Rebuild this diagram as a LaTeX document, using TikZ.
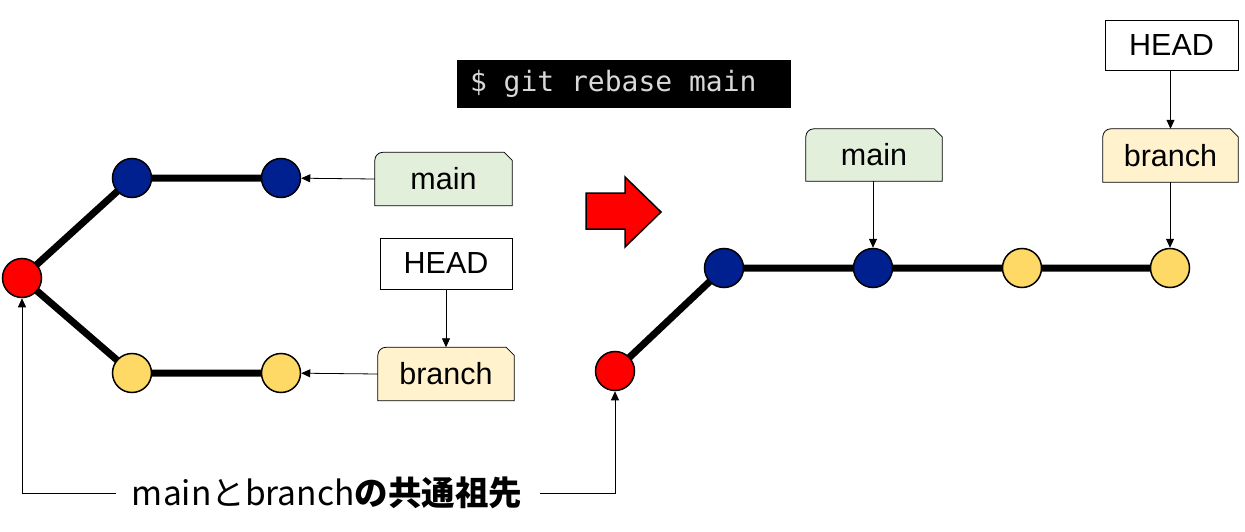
\documentclass[tikz,border=0pt]{standalone}
\usepackage{fontspec}
\setmainfont{Liberation Sans}
\newfontfamily\cjk{Noto Sans CJK JP}
\newfontfamily\cmdfont{DejaVu Sans Mono}
\usetikzlibrary{arrows.meta,backgrounds}
\definecolor{cred}{HTML}{FF0000}
\definecolor{cblue}{HTML}{002090}
\definecolor{cyellow}{HTML}{FFD966}
\definecolor{tgreen}{HTML}{E2EFDA}
\definecolor{tyellow}{HTML}{FFF2CC}
\definecolor{cmdgray}{HTML}{D8D8D8}
\newcommand\tagoutline[2]{%
  \draw[line width=0.8pt,fill=#2] (#1.south west) -- ([yshift=-8pt]#1.north west)
    arc[start angle=180,end angle=90,radius=8pt] -- ([xshift=-8pt]#1.north east)
    -- ([yshift=-8pt]#1.north east) -- (#1.south east) -- cycle;}
\begin{document}
\begin{tikzpicture}[x=1pt,y=-1pt,
  commit/.style={circle,draw=black,line width=1.5pt,minimum size=39pt,inner sep=0pt},
  redc/.style={commit,fill=cred},
  bluec/.style={commit,fill=cblue},
  yelc/.style={commit,fill=cyellow},
  edge/.style={line width=7pt},
  label/.style={font=\fontsize{30.5}{33}\selectfont,inner sep=0pt},
  tagbox/.style={label,minimum height=53pt},
  headbox/.style={label,draw=black,line width=0.8pt,minimum width=132pt,minimum height=51pt},
  ptr/.style={line width=0.8pt,-{Triangle[length=9pt,width=8pt]}}
]
\useasboundingbox (0,0) rectangle (1245,532);
% left graph
\draw[edge] (22,278) -- (132,178) -- (281,178);
\draw[edge] (22,278) -- (132,373) -- (281,373);
\node[redc] (r1) at (22,278) {};
\node[bluec] (b1) at (132,178) {};
\node[bluec] (b2) at (281,178) {};
\node[yelc] (y1) at (132,373) {};
\node[yelc] (y2) at (281,373) {};
\node[tagbox,minimum width=137pt] (lmain) at (443.5,179) {main};
\node[headbox] (lhead) at (446,263.5) {HEAD};
\node[tagbox,minimum width=136pt] (lbranch) at (446,374) {branch};
\begin{scope}[on background layer]
\tagoutline{lmain}{tgreen}
\tagoutline{lbranch}{tyellow}
\end{scope}
\draw[ptr] (lmain.west) -- (b2);
\draw[ptr] (lbranch.west) -- (y2);
\draw[ptr] (lhead.south) -- (lbranch.north);
% command
\node[fill=black,minimum width=334pt,minimum height=48pt,inner sep=0pt,
  font=\cmdfont\fontsize{28}{30}\selectfont,text=cmdgray] (cmd) at (624,84) {\makebox[308pt][l]{\$ git rebase main}};
% red arrow
\draw[fill=cred,line width=1.5pt] (586,193) -- (625,193) -- (625,177) -- (661,212)
  -- (625,247) -- (625,229) -- (586,229) -- cycle;
% right graph
\draw[edge] (615,371) -- (724,268) -- (1170,268);
\node[redc] (r2) at (615,371) {};
\node[bluec] (b3) at (724,268) {};
\node[bluec] (b4) at (873,268) {};
\node[yelc] (y3) at (1022,268) {};
\node[yelc] (y4) at (1170,268) {};
\node[tagbox,minimum width=136pt,minimum height=52pt] (rmain) at (874,155) {main};
\node[headbox,minimum height=50pt,minimum width=133pt] (rhead) at (1171.5,45) {HEAD};
\node[tagbox,minimum width=135pt] (rbranch) at (1170.5,155.5) {branch};
\begin{scope}[on background layer]
\tagoutline{rmain}{tgreen}
\tagoutline{rbranch}{tyellow}
\end{scope}
\draw[ptr] (rmain.south -| b4) -- (b4);
\draw[ptr] (rhead.south -| rbranch) -- (rbranch.north);
\draw[ptr] (rbranch.south -| y4) -- (y4);
% common ancestor
\node[font=\cjk\fontsize{33.5}{36}\selectfont,inner sep=0pt] (anc) at (327,493) {mainとbranch{\bfseries の共通祖先}};
\coordinate (c1) at (22,493);
\coordinate (c2) at (615,493);
\draw[ptr] ([xshift=-16pt]anc.west) -- (c1) -- (r1);
\draw[ptr] ([xshift=18pt]anc.east) -- (c2) -- (r2);
\end{tikzpicture}
\end{document}
